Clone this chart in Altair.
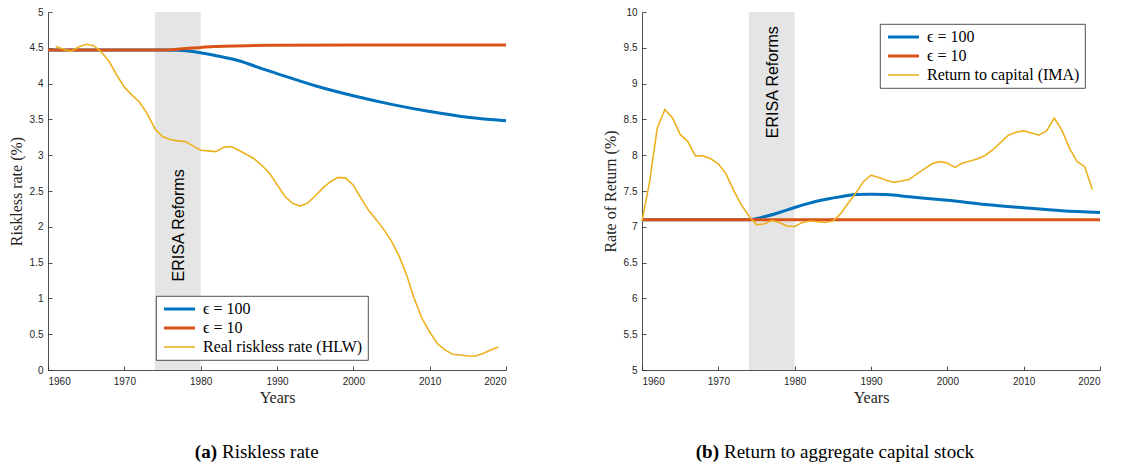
import altair as alt
import pandas as pd

# ---------------- data ----------------
S100 = "ϵ = 100"
S10 = "ϵ = 10"
HLW_NAME = "Real riskless rate (HLW)"
IMA_NAME = "Return to capital (IMA)"

# Panel (a): riskless rate
a_model_years_100 = [1960, 1970, 1975, 1977, 1980, 1982, 1985, 1988, 1990, 1995, 2000, 2005, 2010, 2015, 2020]
a_eps100 = [4.47, 4.47, 4.47, 4.465, 4.43, 4.39, 4.32, 4.21, 4.14, 3.97, 3.83, 3.71, 3.61, 3.53, 3.48]
a_model_years_10 = [1960, 1970, 1975, 1977, 1980, 1983, 1986, 1990, 2000, 2010, 2020]
a_eps10 = [4.47, 4.47, 4.47, 4.48, 4.505, 4.52, 4.53, 4.535, 4.54, 4.54, 4.54]
hlw_years = list(range(1961, 2020))
hlw = [4.52, 4.48, 4.45, 4.51, 4.55, 4.53, 4.44, 4.31, 4.12, 3.95,
       3.84, 3.74, 3.58, 3.37, 3.26, 3.22, 3.20, 3.19, 3.13, 3.07,
       3.06, 3.05, 3.11, 3.12, 3.07, 3.01, 2.95, 2.86, 2.75, 2.59,
       2.43, 2.33, 2.29, 2.33, 2.43, 2.54, 2.63, 2.69, 2.68, 2.58,
       2.40, 2.23, 2.10, 1.96, 1.80, 1.59, 1.32, 0.99, 0.72, 0.53,
       0.37, 0.28, 0.22, 0.21, 0.195, 0.195, 0.23, 0.28, 0.32]

# Panel (b): return to capital
b_model_years_100 = [1960, 1970, 1974, 1976, 1978, 1980, 1983, 1986, 1988, 1990, 1992, 1995, 2000, 2005, 2010, 2015, 2020]
b_eps100 = [7.1, 7.1, 7.1, 7.14, 7.2, 7.27, 7.36, 7.42, 7.45, 7.455, 7.45, 7.42, 7.37, 7.31, 7.265, 7.225, 7.2]
b_model_years_10 = [1960, 1975, 1980, 1990, 2000, 2010, 2020]
b_eps10 = [7.1, 7.1, 7.1, 7.098, 7.098, 7.1, 7.1]
ima_years = list(range(1960, 2020))
ima = [7.08, 7.63, 8.38, 8.64, 8.52, 8.29, 8.19, 7.99, 7.99, 7.95,
       7.88, 7.74, 7.51, 7.31, 7.15, 7.03, 7.04, 7.09, 7.06, 7.01,
       7.005, 7.06, 7.08, 7.07, 7.06, 7.08, 7.18, 7.33, 7.47, 7.63,
       7.72, 7.69, 7.65, 7.62, 7.64, 7.66, 7.74, 7.81, 7.88, 7.91,
       7.89, 7.83, 7.89, 7.92, 7.95, 8.00, 8.08, 8.18, 8.28, 8.32,
       8.34, 8.31, 8.28, 8.34, 8.52, 8.35, 8.10, 7.91, 7.84, 7.52]

x_ticks = [1960, 1970, 1980, 1990, 2000, 2010, 2020]
a_y_ticks = [0, 0.5, 1, 1.5, 2, 2.5, 3, 3.5, 4, 4.5, 5]
b_y_ticks = [5, 5.5, 6, 6.5, 7, 7.5, 8, 8.5, 9, 9.5, 10]

erisa_start, erisa_end = 1974, 1980
x_domain = [1960, 2020]

BLUE, RED, YELLOW = "#0072BD", "#D95319", "#EDB120"
AXIS_COL = "#262626"
SERIF = "Liberation Serif"
SANS = "Liberation Sans"
H = 358


def panel(model100, model10, data_years, data_vals, data_name, y_ticks, y_title,
          legend_xy, erisa_y, cap_tag, cap_text, cap_xy):
    y_domain = [y_ticks[0], y_ticks[-1]]
    model_df = pd.concat([
        pd.DataFrame({"year": model100[0], "value": model100[1], "series": S100}),
        pd.DataFrame({"year": model10[0], "value": model10[1], "series": S10}),
    ])
    data_df = pd.DataFrame({"year": data_years, "value": data_vals, "series": data_name})
    domain = [S100, S10, data_name]
    color = alt.Color("series:N",
                      scale=alt.Scale(domain=domain, range=[BLUE, RED, YELLOW]),
                      legend=alt.Legend(
                          title=None, orient="none",
                          legendX=legend_xy[0], legendY=legend_xy[1],
                          fillColor="white", strokeColor=AXIS_COL,
                          padding=5, symbolType="M-1,0H5.2", symbolSize=100,
                          labelFont=SERIF, labelFontSize=16, labelColor="black",
                          labelOffset=26, rowPadding=3))
    width = alt.StrokeWidth("series:N",
                            scale=alt.Scale(type="ordinal", domain=domain, range=[3, 3, 1.6]),
                            legend=alt.Legend(title=None))
    xscale = alt.Scale(domain=x_domain, nice=False, zero=False)
    yscale = alt.Scale(domain=y_domain, nice=False, zero=False)
    xaxis = alt.Axis(values=x_ticks, tickCount=len(x_ticks), format="d", title="Years",
                     tickSize=alt.ExprRef(expr="-4"), labelPadding=10, titlePadding=3)
    yaxis = alt.Axis(values=y_ticks, tickCount=len(y_ticks), format="~g", title=y_title,
                     tickSize=alt.ExprRef(expr="-4"), labelOverlap=False,
                     labelPadding=9, titlePadding=5)

    band = alt.Chart(pd.DataFrame({"s": [erisa_start], "e": [erisa_end],
                                   "lo": [y_domain[0]], "hi": [y_domain[1]]})).mark_rect(
        color="#e5e5e5").encode(x=alt.X("s:Q", scale=xscale, axis=xaxis),
                                x2="e:Q", y=alt.Y("lo:Q", scale=yscale, axis=yaxis), y2="hi:Q")
    label = alt.Chart(pd.DataFrame({"t": ["ERISA Reforms"]})).mark_text(
        angle=270, font=SANS, fontSize=16, color="black", align="center", baseline="middle"
    ).encode(x=alt.datum(1977.2), y=alt.datum(erisa_y), text="t:N")

    x = alt.X("year:Q", scale=xscale, axis=xaxis)
    y = alt.Y("value:Q", scale=yscale, axis=yaxis)
    models = alt.Chart(model_df).mark_line(interpolate="monotone").encode(
        x=x, y=y, color=color, strokeWidth=width, detail="series:N")
    obs = alt.Chart(data_df).mark_line().encode(
        x=x, y=y, color=color, strokeWidth=width)

    cap1 = alt.Chart(pd.DataFrame({"t": [cap_tag]})).mark_text(
        font=SERIF, fontSize=19, fontWeight="bold", align="right", baseline="middle",
        color="black").encode(x=alt.value(cap_xy[0] - 2), y=alt.value(cap_xy[1]), text="t:N")
    cap2 = alt.Chart(pd.DataFrame({"t": [cap_text]})).mark_text(
        font=SERIF, fontSize=19, align="left", baseline="middle",
        color="black").encode(x=alt.value(cap_xy[0] + 3), y=alt.value(cap_xy[1]), text="t:N")

    return alt.layer(band, label, models, obs, cap1, cap2).properties(width=458, height=H)


left = panel((a_model_years_100, a_eps100), (a_model_years_10, a_eps10), hlw_years, hlw,
             HLW_NAME, a_y_ticks, "Riskless rate (%)", (108, 284), 2.02,
             "(a)", "Riskless rate", (171, 440))
right = panel((b_model_years_100, b_eps100), (b_model_years_10, b_eps10), ima_years, ima,
              IMA_NAME, b_y_ticks, "Rate of Return (%)", (238, 12), 9.02,
              "(b)", "Return to aggregate capital stock", (79, 440))

chart = alt.hconcat(left, right, spacing=90).resolve_scale(
    color="independent", strokeWidth="independent", x="independent", y="independent"
).resolve_legend(color="independent", strokeWidth="independent").properties(
    padding={"left": 0, "top": -1, "right": 5, "bottom": 5}
).configure_view(stroke=None).configure_axis(
    domainColor=AXIS_COL, domainWidth=0.8, tickColor=AXIS_COL, tickWidth=0.8,
    labelFont=SANS, labelFontSize=10, labelColor=AXIS_COL, grid=False,
    titleFont=SERIF, titleFontSize=16, titleFontWeight="normal", titleColor=AXIS_COL
).configure_legend(strokeWidth=0.8)

chart.save("out.html", embed_options={"renderer": "svg", "actions": False})
